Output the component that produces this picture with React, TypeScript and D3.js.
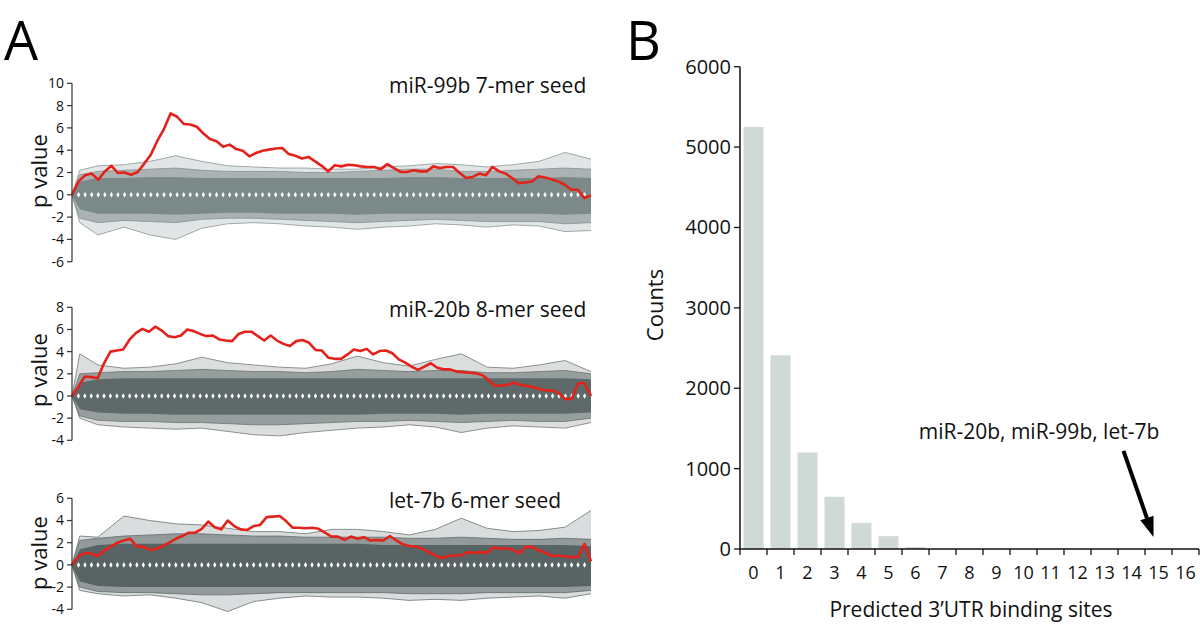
import React from "react";
import * as d3 from "d3";

// ---------- Panel A data ----------
const ENV_X = [0, 0.015, 0.05, 0.1, 0.15, 0.2, 0.25, 0.3, 0.35, 0.4, 0.45, 0.5, 0.55, 0.6, 0.65, 0.7, 0.75, 0.8, 0.85, 0.9, 0.95, 1];

const RED_99B = [0, 1.2, 1.75, 1.9, 1.35, 2.1, 2.6, 1.95, 2.0, 1.8, 2.05, 2.8, 3.6, 4.85, 5.9, 7.3, 7.0, 6.35, 6.3, 6.1, 5.5, 5.0, 4.8, 4.3, 4.5, 4.1, 3.95, 3.45, 3.75, 3.95, 4.05, 4.15, 4.2, 3.65, 3.5, 3.25, 3.4, 3.0, 2.6, 2.1, 2.65, 2.55, 2.7, 2.65, 2.55, 2.5, 2.5, 2.3, 2.75, 2.4, 2.05, 2.05, 2.2, 2.1, 2.1, 2.55, 2.4, 2.5, 2.5, 1.95, 1.5, 1.6, 1.9, 1.75, 2.5, 2.1, 1.9, 1.5, 1.05, 1.1, 1.2, 1.65, 1.55, 1.4, 1.2, 0.9, 0.45, 0.45, -0.3, -0.05];
const RED_20B = [0, 0.85, 1.75, 1.7, 1.6, 2.95, 4.0, 4.1, 4.2, 5.1, 5.7, 6.05, 5.8, 6.25, 5.9, 5.4, 5.3, 5.45, 6.0, 5.85, 5.6, 5.4, 5.45, 5.1, 5.0, 4.95, 5.6, 5.8, 5.8, 5.4, 5.0, 5.45, 5.0, 4.7, 4.5, 4.95, 5.05, 4.8, 4.15, 4.1, 3.45, 3.35, 3.35, 3.75, 4.2, 4.05, 4.25, 3.75, 4.05, 4.1, 3.85, 3.3, 3.0, 2.65, 2.35, 2.65, 2.95, 2.55, 2.4, 2.4, 2.2, 2.15, 2.1, 2.05, 1.9, 1.45, 0.9, 0.95, 1.0, 1.2, 1.0, 0.9, 0.8, 0.6, 0.5, 0.5, 0.25, -0.3, -0.25, 1.15, 1.15, 0];
const RED_LET7B = [0, 0.75, 1.1, 1.0, 0.8, 1.3, 1.65, 2.0, 2.2, 2.35, 1.65, 1.65, 1.35, 1.45, 1.7, 2.0, 2.35, 2.6, 2.9, 2.9, 3.25, 3.9, 3.4, 3.2, 4.0, 3.5, 3.2, 3.15, 3.5, 3.6, 4.3, 4.35, 4.4, 3.95, 3.35, 3.35, 3.3, 3.35, 3.25, 2.9, 2.55, 2.55, 2.25, 2.55, 2.35, 2.5, 2.2, 2.25, 2.2, 2.6, 2.2, 1.85, 1.7, 1.65, 1.45, 1.15, 0.85, 0.6, 0.8, 0.85, 0.85, 1.15, 1.1, 1.15, 1.1, 1.6, 1.45, 1.5, 1.35, 1.05, 1.65, 1.6, 1.3, 1.1, 0.8, 0.85, 0.75, 0.7, 0.7, 1.9, 0.3];

// Envelopes of the background (random-seed) curve bundle, read at ENV_X
const OUT_UP_99B = [0, 2.2, 2.6, 2.7, 3.0, 3.5, 3.0, 2.6, 2.5, 2.4, 2.4, 2.3, 2.3, 2.5, 2.6, 2.8, 2.7, 2.5, 2.7, 3.0, 3.8, 3.2];
const OUT_LO_99B = [0, -2.5, -3.6, -2.9, -3.6, -4.0, -3.0, -2.6, -2.5, -2.6, -2.8, -2.9, -3.1, -2.9, -2.8, -2.6, -2.7, -2.9, -2.7, -2.8, -3.3, -3.2];
const MID_UP_99B = [0, 1.8, 2.1, 2.2, 2.3, 2.4, 2.2, 2.1, 2.1, 2.1, 2.0, 2.0, 2.1, 2.2, 2.3, 2.3, 2.1, 2.1, 2.2, 2.3, 2.4, 2.3];
const MID_LO_99B = [0, -2.1, -2.5, -2.3, -2.4, -2.5, -2.2, -2.1, -2.1, -2.2, -2.3, -2.4, -2.5, -2.4, -2.3, -2.2, -2.3, -2.4, -2.4, -2.4, -2.6, -2.5];
const CORE_UP_99B = [0, 1.2, 1.5, 1.5, 1.6, 1.6, 1.5, 1.5, 1.5, 1.5, 1.5, 1.5, 1.5, 1.5, 1.6, 1.6, 1.5, 1.5, 1.5, 1.5, 1.6, 1.5];
const CORE_LO_99B = [0, -1.3, -1.7, -1.7, -1.7, -1.8, -1.7, -1.6, -1.6, -1.7, -1.7, -1.7, -1.8, -1.7, -1.7, -1.7, -1.7, -1.7, -1.7, -1.7, -1.8, -1.7];

const OUT_UP_20B = [0, 3.8, 2.8, 2.5, 2.6, 2.9, 3.5, 3.0, 2.8, 2.6, 2.5, 2.9, 3.6, 3.0, 2.7, 3.3, 3.8, 2.6, 2.5, 2.8, 3.2, 2.2];
const OUT_LO_20B = [0, -2.0, -2.6, -2.8, -2.9, -3.0, -2.9, -3.2, -3.5, -3.6, -3.3, -3.1, -2.9, -2.8, -2.6, -2.8, -3.3, -2.9, -2.7, -2.8, -2.9, -2.4];
const MID_UP_20B = [0, 2.0, 2.1, 2.2, 2.2, 2.3, 2.4, 2.3, 2.2, 2.2, 2.1, 2.2, 2.4, 2.3, 2.2, 2.3, 2.3, 2.1, 2.1, 2.2, 2.3, 2.0];
const MID_LO_20B = [0, -1.8, -2.2, -2.3, -2.3, -2.4, -2.4, -2.5, -2.6, -2.6, -2.5, -2.4, -2.3, -2.3, -2.2, -2.3, -2.4, -2.3, -2.2, -2.3, -2.3, -2.0];
const CORE_UP_20B = [0, 1.2, 1.5, 1.6, 1.6, 1.6, 1.6, 1.6, 1.6, 1.6, 1.6, 1.6, 1.6, 1.6, 1.6, 1.6, 1.6, 1.6, 1.6, 1.6, 1.6, 1.5];
const CORE_LO_20B = [0, -1.2, -1.5, -1.6, -1.6, -1.7, -1.7, -1.7, -1.7, -1.7, -1.7, -1.7, -1.7, -1.6, -1.6, -1.6, -1.7, -1.6, -1.6, -1.6, -1.6, -1.5];

const OUT_UP_LET7B = [0, 2.6, 2.5, 4.4, 4.0, 3.7, 3.6, 3.3, 3.0, 3.0, 2.8, 3.2, 3.2, 3.0, 2.7, 3.2, 4.2, 3.3, 3.0, 3.1, 3.4, 4.9];
const OUT_LO_LET7B = [0, -2.3, -2.6, -2.8, -2.7, -3.0, -3.4, -4.2, -3.3, -3.0, -2.8, -2.9, -2.9, -3.0, -3.2, -3.1, -3.2, -3.0, -2.9, -2.8, -3.0, -2.6];
const MID_UP_LET7B = [0, 2.2, 2.4, 2.6, 2.7, 2.8, 2.8, 2.7, 2.6, 2.6, 2.5, 2.5, 2.5, 2.5, 2.4, 2.4, 2.5, 2.4, 2.3, 2.3, 2.4, 2.3];
const MID_LO_LET7B = [0, -2.0, -2.4, -2.5, -2.5, -2.6, -2.7, -2.7, -2.6, -2.5, -2.5, -2.5, -2.5, -2.5, -2.6, -2.6, -2.6, -2.5, -2.5, -2.5, -2.5, -2.3];
const CORE_UP_LET7B = [0, 1.4, 1.8, 1.9, 1.9, 1.9, 1.9, 1.9, 1.9, 1.9, 1.9, 1.9, 1.9, 1.8, 1.8, 1.8, 1.8, 1.8, 1.8, 1.8, 1.8, 1.7];
const CORE_LO_LET7B = [0, -1.5, -1.9, -2.0, -2.0, -2.0, -2.0, -2.0, -2.0, -2.0, -2.0, -2.0, -2.0, -2.0, -2.0, -2.0, -2.0, -2.0, -2.0, -2.0, -2.0, -1.9];

const TITLES_A = ["miR-99b 7-mer seed", "miR-20b 8-mer seed", "let-7b 6-mer seed"];
const TICKS_99B = [-6, -4, -2, 0, 2, 4, 6, 8, 10];
const TICKS_20B = [-4, -2, 0, 2, 4, 6, 8];
const TICKS_LET7B = [-4, -2, 0, 2, 4, 6];

// ---------- Panel B data ----------
const SITE_CATEGORIES = ["0", "1", "2", "3", "4", "5", "6", "7", "8", "9", "10", "11", "12", "13", "14", "15", "16"];
const SITE_COUNTS = [5250, 2410, 1200, 650, 325, 160, 25, 0, 0, 0, 0, 0, 0, 0, 0, 0, 0];
const COUNT_TICKS = [0, 1000, 2000, 3000, 4000, 5000, 6000];
const ANNOTATION_TEXT = "miR-20b, miR-99b, let-7b";
const ANNOTATION_CATEGORY = "15";

const FONT = "'Open Sans', 'Noto Sans', sans-serif";

type PanelSpec = {
  title: string;
  red: number[];
  outUp: number[]; outLo: number[];
  midUp: number[]; midLo: number[];
  coreUp: number[]; coreLo: number[];
  ticks: number[];
  top: number; bottom: number; labelY: number; titleY: number;
  color: string;
};

const PANELS: PanelSpec[] = [
  { title: TITLES_A[0], red: RED_99B, outUp: OUT_UP_99B, outLo: OUT_LO_99B, midUp: MID_UP_99B, midLo: MID_LO_99B, coreUp: CORE_UP_99B, coreLo: CORE_LO_99B, ticks: TICKS_99B, top: 83.3, bottom: 261.7, labelY: 171, titleY: 86, color: "#7c8989" },
  { title: TITLES_A[1], red: RED_20B, outUp: OUT_UP_20B, outLo: OUT_LO_20B, midUp: MID_UP_20B, midLo: MID_LO_20B, coreUp: CORE_UP_20B, coreLo: CORE_LO_20B, ticks: TICKS_20B, top: 307.3, bottom: 440.3, labelY: 370, titleY: 310, color: "#5e6969" },
  { title: TITLES_A[2], red: RED_LET7B, outUp: OUT_UP_LET7B, outLo: OUT_LO_LET7B, midUp: MID_UP_LET7B, midLo: MID_LO_LET7B, coreUp: CORE_UP_LET7B, coreLo: CORE_LO_LET7B, ticks: TICKS_LET7B, top: 498.3, bottom: 609.3, labelY: 553, titleY: 501, color: "#586363" },
];

function PanelA({ p }: { p: PanelSpec }) {
  const x = d3.scaleLinear().domain([0, 1]).range([72, 591]);
  const ext = d3.extent(p.ticks) as [number, number];
  const y = d3.scaleLinear().domain(ext).range([p.bottom, p.top]);
  const band = (up: number[], lo: number[]) =>
    d3.area<number>().x((_, i) => x(ENV_X[i])).y0((_, i) => y(lo[i])).y1((_, i) => y(up[i]))(up) || "";
  const edge = (v: number[]) => d3.line<number>().x((_, i) => x(ENV_X[i])).y((d) => y(d))(v) || "";
  const n = p.red.length;
  const redLine = d3.line<number>().x((_, i) => x(i / (n - 1))).y((d) => y(d))(p.red) || "";
  const diamond = d3.symbol().type(d3.symbolDiamond).size(9)() || "";
  return (
    <g>
      <path d={band(p.outUp, p.outLo)} fill={p.color} opacity={0.22} />
      <path d={edge(p.outUp)} fill="none" stroke={p.color} strokeWidth={0.7} />
      <path d={edge(p.outLo)} fill="none" stroke={p.color} strokeWidth={0.7} />
      <path d={band(p.midUp, p.midLo)} fill={p.color} opacity={0.55} />
      <path d={edge(p.midUp)} fill="none" stroke={p.color} strokeWidth={0.7} />
      <path d={edge(p.midLo)} fill="none" stroke={p.color} strokeWidth={0.7} />
      <path d={band(p.coreUp, p.coreLo)} fill={p.color} />
      {p.red.slice(1, n - 1).map((_, i) => (
        <path key={i} d={diamond} fill="#ffffff" transform={`translate(${x((i + 1) / (n - 1))},${y(0)})`} />
      ))}
      <path d={redLine} fill="none" stroke="#e3231b" strokeWidth={2.6} strokeLinejoin="round" />
      <line x1={72} x2={72} y1={y(ext[0])} y2={y(ext[1])} stroke="#333" strokeWidth={1.2} />
      {p.ticks.map((t) => (
        <g key={t} transform={`translate(0,${y(t)})`}>
          <line x1={67} x2={72} stroke="#333" strokeWidth={1.2} />
          <text x={64} dy="0.35em" textAnchor="end" fontSize={14} fontFamily={FONT} fill="#111">{t}</text>
        </g>
      ))}
      <text transform={`translate(47,${p.labelY}) rotate(-90)`} textAnchor="middle" fontSize={22} fontFamily={FONT} fill="#111">p value</text>
      <text x={389} y={p.titleY} dy="0.35em" fontSize={21} fontFamily={FONT} fill="#111">{p.title}</text>
    </g>
  );
}

function PanelB() {
  const x = d3.scaleBand<string>().domain(SITE_CATEGORIES).range([740, 1199]).paddingInner(0.26).paddingOuter(0.13);
  const y = d3.scaleLinear().domain([0, 6000]).range([549, 66.7]);
  const step = x.step();
  const x0 = x.range()[0];
  const boundaries = d3.range(SITE_CATEGORIES.length + 1).map((k) => x0 + k * step);
  const tipX = (x(ANNOTATION_CATEGORY) as number) + x.bandwidth() / 2 - 5;
  const tipY = y(150);
  const startX = tipX - 30;
  const startY = tipY - 86;
  const ang = Math.atan2(tipY - startY, tipX - startX);
  const headLen = 20, headW = 7;
  const bx = tipX - headLen * Math.cos(ang), by = tipY - headLen * Math.sin(ang);
  const px = -Math.sin(ang) * headW, py = Math.cos(ang) * headW;
  return (
    <g>
      {SITE_CATEGORIES.map((c, i) => (
        <rect key={c} x={x(c)} width={x.bandwidth()} y={y(SITE_COUNTS[i])} height={y(0) - y(SITE_COUNTS[i])} fill="#cfd9d6" />
      ))}
      <line x1={740} x2={740} y1={y(6000)} y2={y(0)} stroke="#111" strokeWidth={1.5} />
      <line x1={740} x2={1199} y1={y(0)} y2={y(0)} stroke="#111" strokeWidth={1.5} />
      {COUNT_TICKS.map((t) => (
        <g key={t} transform={`translate(0,${y(t)})`}>
          <line x1={734} x2={740} stroke="#111" strokeWidth={1.3} />
          <text x={731} dy="0.35em" textAnchor="end" fontSize={20} fontFamily={FONT} fill="#111">{t}</text>
        </g>
      ))}
      {boundaries.map((b, i) => (
        <line key={i} x1={b} x2={b} y1={y(0)} y2={y(0) + 6} stroke="#111" strokeWidth={1.3} />
      ))}
      {SITE_CATEGORIES.map((c) => (
        <text key={c} x={(x(c) as number) + x.bandwidth() / 2} y={573} dy="0.35em" textAnchor="middle" fontSize={18} fontFamily={FONT} fill="#111">{c}</text>
      ))}
      <text x={971} y={610} dy="0.35em" textAnchor="middle" fontSize={21} fontFamily={FONT} fill="#111">Predicted 3’UTR binding sites</text>
      <text transform="translate(655,305) rotate(-90)" dy="0.35em" textAnchor="middle" fontSize={22} fontFamily={FONT} fill="#111">Counts</text>
      <text x={1039} y={432} dy="0.35em" textAnchor="middle" fontSize={21} fontFamily={FONT} fill="#111">{ANNOTATION_TEXT}</text>
      <line x1={startX} y1={startY} x2={bx} y2={by} stroke="#000" strokeWidth={4} />
      <path d={`M${tipX},${tipY}L${bx + px},${by + py}L${bx - px},${by - py}Z`} fill="#000" />
    </g>
  );
}

export default function App() {
  return (
    <svg width={1200} height={643} style={{ position: "absolute", left: 0, top: 0, background: "#fff" }}>
      <rect width={1200} height={643} fill="#fff" />
      <text x={4} y={60} fontSize={54} fontFamily={FONT} fill="#000">A</text>
      <text x={626} y={60} fontSize={54} fontFamily={FONT} fill="#000">B</text>
      {PANELS.map((p, i) => <PanelA key={i} p={p} />)}
      <PanelB />
    </svg>
  );
}
